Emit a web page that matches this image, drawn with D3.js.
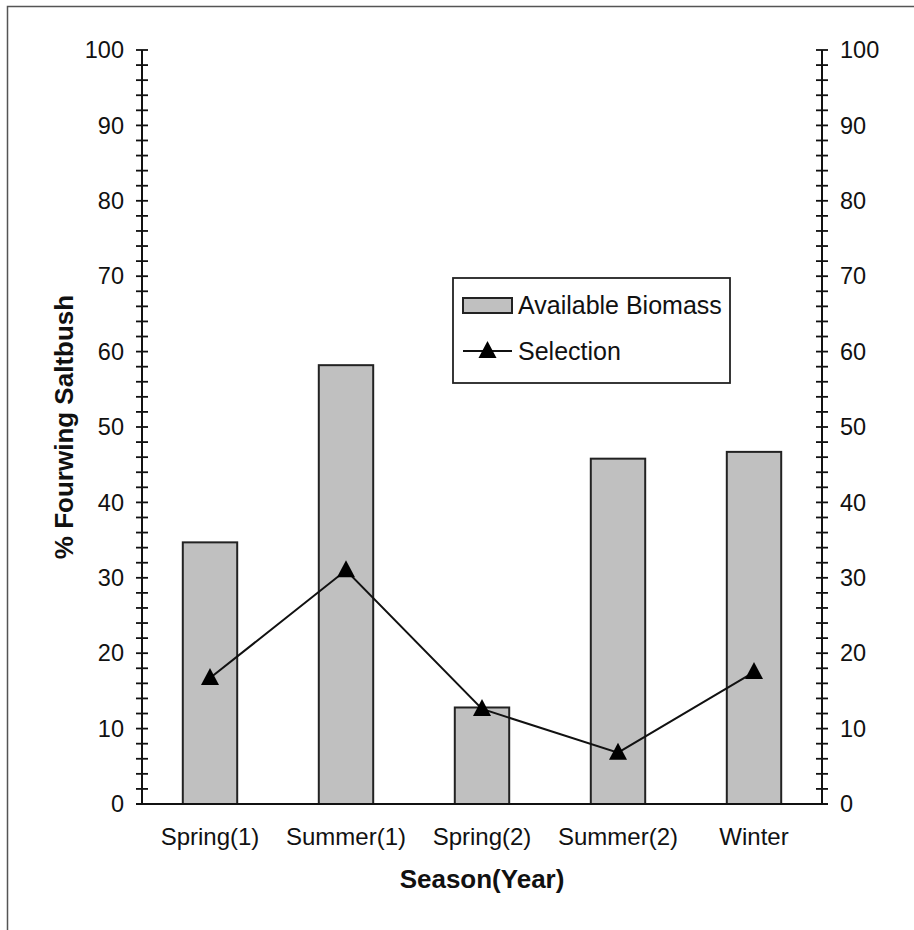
<!DOCTYPE html>
<html>
<head>
<meta charset="utf-8">
<script src="https://cdn.jsdelivr.net/npm/d3@7"></script>
<style>
  body { margin: 0; background: #fff; }
  svg { display: block; font-family: "Liberation Sans", Arial, sans-serif; }
</style>
</head>
<body>
<div id="chart"></div>
<script>
(function () {
  const WIDTH = 914;
  const HEIGHT = 930;

  // data
  const seasons = ["Spring(1)", "Summer(1)", "Spring(2)", "Summer(2)", "Winter"];
  const biomass = [34.7, 58.2, 12.8, 45.8, 46.7];
  const selection = [16.7, 31.0, 12.6, 6.8, 17.5];
  const majorTicks = [0, 10, 20, 30, 40, 50, 60, 70, 80, 90, 100];
  const minorTicks = d3.range(0, 101, 2);

  const left = 142, right = 822, top = 50, bottom = 804;

  const svg = d3.select("#chart").append("svg")
    .attr("width", WIDTH)
    .attr("height", HEIGHT);

  // outer frame (top + left edges only)
  svg.append("path")
    .attr("d", `M7.5,${HEIGHT} V6.5 H${WIDTH}`)
    .attr("fill", "none")
    .attr("stroke", "#555")
    .attr("stroke-width", 1.5);

  const x = d3.scaleBand()
    .domain(seasons)
    .range([left, right])
    .paddingInner(0.6)
    .paddingOuter(0.3);

  const y = d3.scaleLinear()
    .domain([0, 100])
    .range([bottom, top]);

  // bars
  svg.append("g")
    .selectAll("rect")
    .data(seasons)
    .join("rect")
    .attr("x", d => x(d))
    .attr("width", x.bandwidth())
    .attr("y", (d, i) => y(biomass[i]))
    .attr("height", (d, i) => y(0) - y(biomass[i]))
    .attr("fill", "#c0c0c0")
    .attr("stroke", "#222")
    .attr("stroke-width", 2);

  // y axes, ticks crossing the line on both sides
  function yAxis(xPos, labelSide) {
    const g = svg.append("g").attr("transform", `translate(${xPos},0)`);
    g.append("line")
      .attr("y1", y(100)).attr("y2", y(0))
      .attr("stroke", "#111").attr("stroke-width", 2);
    g.selectAll("line.tick")
      .data(minorTicks)
      .join("line")
      .attr("class", "tick")
      .attr("x1", -6).attr("x2", 6)
      .attr("y1", d => y(d)).attr("y2", d => y(d))
      .attr("stroke", "#111").attr("stroke-width", 1.8);
    g.selectAll("text")
      .data(majorTicks)
      .join("text")
      .attr("x", labelSide < 0 ? -18 : 18)
      .attr("y", d => y(d))
      .attr("dy", "0.35em")
      .attr("text-anchor", labelSide < 0 ? "end" : "start")
      .attr("font-size", 23.5)
      .attr("fill", "#111")
      .text(d => d);
  }
  yAxis(left, -1);
  yAxis(right, 1);

  // x axis baseline
  svg.append("line")
    .attr("x1", left - 6).attr("x2", right + 6)
    .attr("y1", y(0)).attr("y2", y(0))
    .attr("stroke", "#111").attr("stroke-width", 2);

  svg.append("g")
    .selectAll("text")
    .data(seasons)
    .join("text")
    .attr("x", d => x(d) + x.bandwidth() / 2)
    .attr("y", 845)
    .attr("text-anchor", "middle")
    .attr("font-size", 24)
    .attr("fill", "#111")
    .text(d => d);

  // axis titles
  svg.append("text")
    .attr("x", (left + right) / 2)
    .attr("y", 888)
    .attr("text-anchor", "middle")
    .attr("font-size", 26)
    .attr("font-weight", "bold")
    .attr("fill", "#111")
    .text("Season(Year)");

  svg.append("text")
    .attr("transform", `translate(73,${(top + bottom) / 2}) rotate(-90)`)
    .attr("text-anchor", "middle")
    .attr("font-size", 26)
    .attr("font-weight", "bold")
    .attr("fill", "#111")
    .text("% Fourwing Saltbush");

  // selection line + triangle markers
  const cx = i => x(seasons[i]) + x.bandwidth() / 2;
  const line = d3.line()
    .x((d, i) => cx(i))
    .y(d => y(d));

  svg.append("path")
    .datum(selection)
    .attr("d", line)
    .attr("fill", "none")
    .attr("stroke", "#111")
    .attr("stroke-width", 2);

  const tri = "M0,-10 L9,7 L-9,7 Z";
  svg.append("g")
    .selectAll("path")
    .data(selection)
    .join("path")
    .attr("transform", (d, i) => `translate(${cx(i)},${y(d)})`)
    .attr("d", tri)
    .attr("fill", "#000");

  // legend
  const lg = svg.append("g").attr("transform", "translate(453,278)");
  lg.append("rect")
    .attr("width", 277).attr("height", 105)
    .attr("fill", "#fff")
    .attr("stroke", "#222").attr("stroke-width", 1.8);
  lg.append("rect")
    .attr("x", 10).attr("y", 20)
    .attr("width", 49).attr("height", 15)
    .attr("fill", "#c0c0c0")
    .attr("stroke", "#222").attr("stroke-width", 2);
  lg.append("text")
    .attr("x", 65).attr("y", 36)
    .attr("font-size", 25)
    .attr("fill", "#111")
    .text("Available Biomass");
  lg.append("line")
    .attr("x1", 10).attr("x2", 59)
    .attr("y1", 73).attr("y2", 73)
    .attr("stroke", "#111").attr("stroke-width", 2);
  lg.append("path")
    .attr("transform", "translate(34.5,73)")
    .attr("d", tri)
    .attr("fill", "#000");
  lg.append("text")
    .attr("x", 65).attr("y", 82)
    .attr("font-size", 25)
    .attr("fill", "#111")
    .text("Selection");
})();
</script>
</body>
</html>
